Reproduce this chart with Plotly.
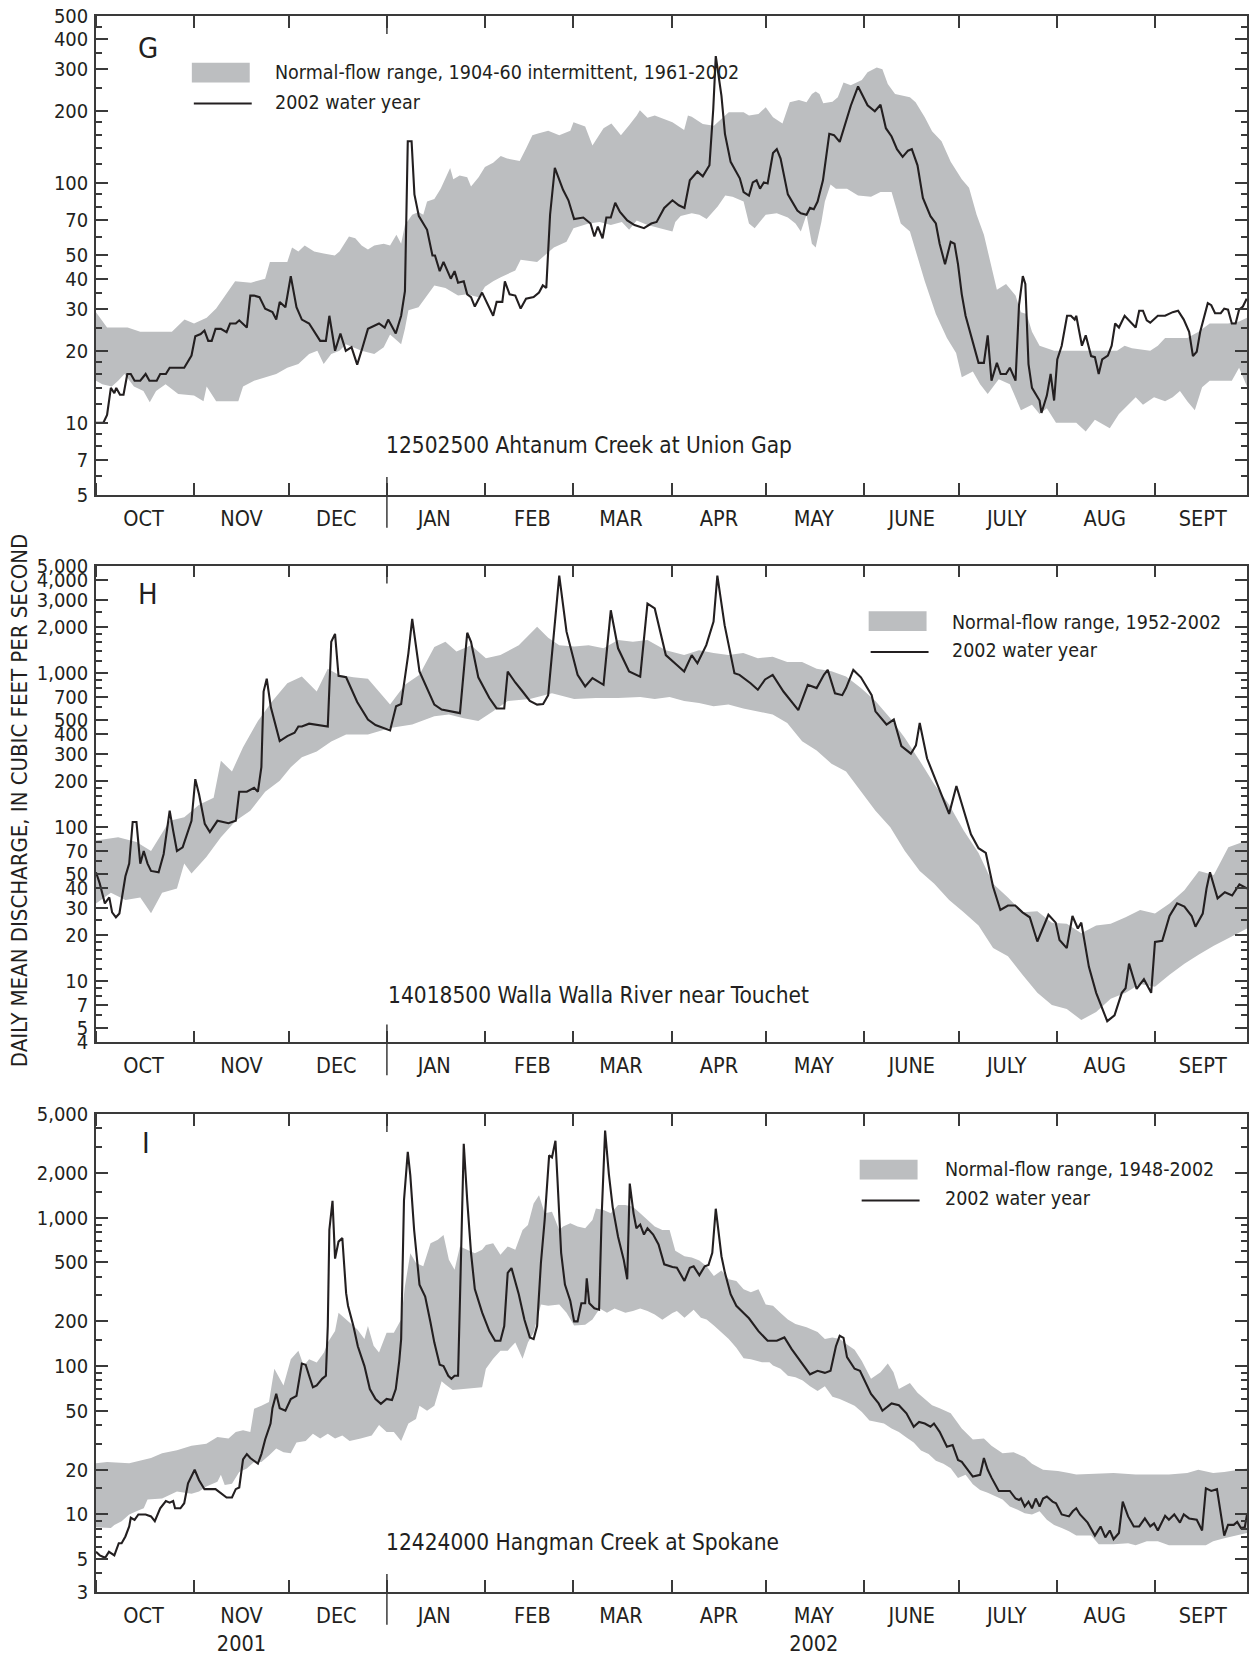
import math
import pandas as pd
import plotly.graph_objects as go

# ---------------- DATA (day of water year counted from 2001-10-01, discharge in ft3/s) ----------------
BASE = "2001-10-01"

G_UPPER = [(0,29),(3.5,25),(10,25),(14,24),(24,24),(28,27),(31,26),(35,27.5),(38,30),(42,36),(44,39),(49,38.5),(53.5,40),(55,47),(60.5,47),(62,54),(64,52),(66,55),(69,52),(72,51),(75.5,50),(77,52),(80,60),(82,59),(84,55),(86,53),(88,55),(91,56),(93,55),(95,61),(96.5,56),(97.7,67),(100,74),(102,76),(103.5,74),(104.7,84),(107,86),(109,95),(112,116),(113,104),(115,108),(117.4,106),(118.6,97),(121,106),(123,117),(125.6,122),(128,130),(130,127),(134,124),(136,140),(138,159),(139.5,161),(143,166),(146.5,159),(150,166),(151,180),(154.7,173),(157,144),(160.5,170),(163,178),(166,159),(168.6,175),(171,192),(172,202),(174.4,188),(176.7,192),(179,187),(182.3,180),(186,167),(187.2,192),(188.4,190),(191.9,177),(195.4,174),(200.1,198),(204.8,198),(206.5,192),(209.5,195),(211.8,208),(214.1,189),(217.1,178),(219.4,218),(222.3,223),(224.7,218),(226.4,236),(227.6,242),(228.8,236),(230,216),(232.9,219),(234.6,229),(236.4,264),(238.7,257),(242.2,270),(244,291),(246.9,305),(248.7,300),(250.4,260),(252.7,236),(257.4,229),(259.2,218),(262.1,189),(264.4,165),(267.4,150),(270.3,123),(273.8,104),(276.1,96),(278.5,74),(280.8,61),(283.2,44),(284.9,36),(287.8,38),(290.8,34),(292.5,29),(294.3,28.5),(296,24),(298.4,21),(303,20),(308.9,20),(315.9,20),(322.9,20),(325.3,21),(327.6,20.5),(333.4,20),(335.8,21),(338.1,22.6),(345.1,22.6),(348.7,24),(352.2,26),(358,26),(361.5,26.5),(364,27.5)]

G_LOWER = [(0,15),(2,14.5),(5,14.2),(7,15),(9,16),(12,14.2),(15,13.6),(17,12.2),(19,13.6),(22,14.5),(26,13.2),(31,13),(34,12.3),(35,14.2),(38,12.3),(45,12.3),(46.5,14.2),(50,15),(57,16),(60.5,17),(64,17.6),(67.4,19.4),(70,20),(72,17.6),(74.4,19.4),(77,20),(79,21.3),(84,20),(88,19.4),(91,20.7),(93,23.4),(96.5,21.3),(97.7,24.7),(98.8,29.5),(102,30.4),(104.7,34),(107,37.5),(110.5,36.6),(114.5,34),(117.4,34.4),(121,33.5),(123,37),(125.6,39),(128,40.6),(132.6,43.3),(134.3,48),(139.5,47),(141.9,50),(144.8,54),(148.8,57),(151,65),(155.8,68),(159.3,69),(162.8,67),(166.3,69),(168.6,64),(171,70),(174.4,67),(178,65),(182.3,63),(183.2,69),(184.9,73),(188.4,75),(190.8,74),(193.1,71),(196.6,80),(199,89),(201.3,88),(204.8,84),(206.5,68),(208.3,65),(211.8,74),(215.3,75),(218.8,72),(221.2,68),(222.9,63),(224.7,74),(226.4,56),(227.6,54),(229.4,69),(230.5,84),(232.3,99),(234,95),(237.5,95),(241,89),(245.1,88),(248.1,92),(251.6,92),(254.5,68),(257.4,63),(262.1,39),(265.6,28.5),(269.1,22.6),(272,19.6),(273.8,15.5),(277.3,16.4),(279.6,14.5),(282,13.2),(285.5,15.2),(289,14.5),(292.5,11.3),(296,11.9),(298.4,10.9),(300.7,11.5),(303.6,10),(310,10),(313,9.2),(315.9,10.3),(320.6,9.5),(323.5,10.9),(328.8,12.8),(331.1,11.9),(334.6,12.8),(338.1,12.3),(340.5,12.8),(342.8,13.6),(345.1,12.3),(347.5,11.3),(349.8,14.1),(352.2,15),(359.2,15),(361.5,17),(364,14.2)]

G_FLOW = [(0,10),(2.3,10),(3.5,10.8),(4.7,14),(5.8,13.3),(6.4,14),(7.6,13.1),(8.7,13.1),(9.9,16),(11,16),(12.2,15),(14,15),(15.7,16),(16.9,15),(19.2,15),(20.3,16),(22.1,16),(23.3,17),(27.9,17),(30.2,19.1),(31.4,23),(33.1,23.5),(34.3,24.3),(35.5,22),(36.6,22),(37.8,24.7),(39.5,24.7),(41.3,23.9),(42.4,26),(44.2,26),(45.3,26.8),(47.7,25),(48.8,34),(50,34),(51.7,33.5),(53.5,30),(55.8,29),(57,27),(58.1,32),(59.9,30.4),(61.6,41),(63.4,30.4),(65.1,27),(67.4,26),(70.9,22),(72.7,22),(73.8,28),(75.6,20),(77.3,23.6),(79,20),(80.8,20.7),(82.6,17.5),(84.3,20.7),(86,24.7),(89.5,26),(91.3,25),(92.4,27),(94.8,23.6),(96.5,28),(97.7,35.5),(98.6,150),(99.8,150),(100.7,90),(102.1,73),(104.7,64),(106.4,50),(107.2,50),(108.7,43),(109.9,47),(112.2,40),(113.4,43),(114.5,38.5),(116.3,39),(117.4,34.4),(118.6,33.5),(119.8,30.6),(122.1,35),(123.8,31.6),(125.6,28),(126.7,32),(128.5,32),(129.3,39),(130.8,34.4),(132.6,34),(134.3,30),(136,33),(138.4,33.5),(140.1,35),(141.3,37.5),(142.4,36.6),(143.6,74),(145.1,116),(147.7,94),(149.4,85),(151.2,71),(154.1,72),(156.4,68),(157.6,60),(158.7,66),(160.2,59),(161.4,72),(162.8,72),(164.2,83),(165.7,76),(168,70),(170.3,67),(173.3,65),(175.6,68),(177.3,69),(179.7,79),(182.3,85),(184.3,81),(186.1,79),(187.8,103),(190.2,112),(191.9,107),(194,119),(195.2,204),(196,340),(197.8,232),(198.9,161),(200.7,123),(203.6,105),(204.8,92),(206.5,89),(207.7,101),(208.9,103),(210,95),(211.2,101),(212.4,100),(214.1,134),(215.3,139),(216.5,127),(218.8,90),(221.8,77),(222.9,75),(224.7,74),(225.8,79),(227,78),(228.2,84),(229.9,103),(231.9,161),(233.4,159),(235.2,149),(236.9,175),(238.7,211),(241,254),(242.2,235),(244,212),(246.3,200),(248.1,213),(249.8,170),(251.6,157),(253.3,139),(255.1,129),(256.8,137),(258,139),(259.8,119),(261.5,87),(263.9,73),(265.6,68),(266.8,56),(268.5,46),(270.3,57),(271.5,56),(272.6,46),(273.8,34.4),(275,28),(276.7,23),(279.1,17.8),(280.8,17.8),(282,23.2),(283.2,15),(284.9,17.8),(286.1,16),(287.8,16),(289,17),(290.8,15),(291.9,31),(293.1,41),(293.9,38),(294.9,17.6),(296,14),(298.4,12.4),(299,11),(300.7,13),(301.9,16),(303,12.4),(304,18.4),(305.4,21),(307.1,28),(308.3,28),(309.5,27),(310,28),(311.8,21),(313,23.2),(314.7,19),(315.9,18.8),(317.1,16),(318.2,18.4),(320,19.1),(321.2,21),(322.3,26),(323.5,25),(325.3,28),(327,26.5),(328.8,25),(329.9,29.4),(331.1,29.4),(332.3,26.8),(333.4,26.2),(335.8,28),(338.1,28),(340.5,29),(342.2,29.4),(344,27),(345.7,24),(346.9,19),(348.1,19.8),(349.2,24),(351.6,31.6),(352.7,31),(353.9,28.7),(355.7,28.7),(356.8,30),(358,29.7),(359.2,26),(360.4,26),(361.5,29.7),(362.7,30.6),(363.9,33)]

H_UPPER = [(0,82),(7,86),(12.8,80),(17.4,70),(23.3,110),(27.9,116),(32.6,140),(37.2,155),(39.5,270),(43,230),(46.5,330),(51.2,490),(55.8,660),(60.5,860),(65.1,950),(69.8,760),(73.3,1070),(76.7,975),(81.4,940),(86,920),(93,625),(97.7,840),(102.3,975),(107,1480),(110.5,1600),(114,1380),(118.6,1520),(123.3,1250),(127.9,1310),(133.7,1520),(139.5,2000),(143,1700),(146.5,1520),(151.2,1490),(155.8,1520),(160.5,1450),(165.1,1640),(169.8,1600),(174.4,1640),(180.2,1410),(186,1310),(190.7,1410),(195.3,1350),(200,1310),(204.7,1350),(209.3,1250),(214,1280),(218.6,1180),(223.3,1180),(227.9,1070),(232.6,1030),(237.2,950),(241.9,800),(246.5,660),(251.2,510),(255.8,380),(260.5,270),(265.1,190),(269.8,140),(274.4,95),(279.1,68),(283.7,43),(288.4,35),(293,28),(297.7,28.5),(302.3,24),(307,23.6),(311.6,20.5),(316.3,23),(320.9,23.6),(325.6,26),(330.2,29),(334.9,27.5),(339.5,32),(344.2,39),(348.8,52),(353.5,49),(358.1,74),(364,82)]

H_LOWER = [(0,32),(4.7,37.5),(9.3,33.7),(14,35),(17.4,27.6),(20.9,37.5),(25.6,40),(27.9,58),(30.2,50),(34.9,64),(39.5,86),(44.2,110),(48.8,128),(53.5,170),(58.1,200),(61.6,245),(65.1,285),(69.8,310),(74.4,360),(79.1,400),(86,400),(93,440),(100,464),(107,525),(111.6,540),(116.3,510),(120.9,490),(125.6,565),(130.2,660),(137.2,680),(144.2,740),(151.2,680),(158.1,690),(165.1,690),(172.1,700),(176.7,680),(181.4,700),(186,660),(190.7,640),(195.3,610),(200,625),(204.7,590),(209.3,565),(214,540),(218.6,475),(223.3,362),(227.9,315),(232.6,258),(237.2,230),(241.9,170),(246.5,128),(251.2,100),(255.8,70),(260.5,52),(265.1,43),(269.8,33.7),(274.4,28),(279.1,23),(283.7,16.4),(288.4,14.5),(293,11),(297.7,8.4),(302.3,7),(307,6.6),(311.6,5.6),(316.3,6.3),(320.9,7.7),(325.6,8.4),(330.2,9.6),(334.9,9.2),(339.5,11),(344.2,13),(348.8,14.9),(353.5,17),(358.1,19),(364,22)]

H_FLOW = [(0,51),(1.2,43),(2.8,32),(4.2,35),(5.1,28),(6.3,26),(7.4,27.5),(9.3,48),(10.5,58),(11.6,108),(12.8,108),(14,58),(15.1,70),(16.3,58),(17.4,52),(19.8,51),(21.4,67),(23.3,128),(24.4,95),(25.6,70),(27.4,74),(29.1,95),(30.2,110),(31.4,205),(32.6,163),(34.4,105),(36,93),(38.4,110),(41.9,106),(44.2,110),(45.3,170),(47.7,170),(50,180),(51.2,170),(52.3,245),(53,760),(54,920),(55.3,600),(58.1,362),(60.5,390),(62.8,410),(64,450),(65.1,450),(67.4,470),(70.9,460),(73.3,450),(74.4,1600),(75.6,1800),(76.7,960),(79.1,940),(82.6,650),(86,500),(88.4,460),(93,425),(94.9,610),(96.5,630),(98.8,1350),(100,2250),(102.3,1025),(107,625),(109.3,580),(111.6,570),(115.1,550),(117.4,1830),(118.6,1600),(120.9,940),(124.4,690),(126.7,590),(129.1,590),(130.2,1025),(132.6,870),(134.9,760),(137.2,660),(139.5,625),(141.4,630),(143,720),(146.5,4300),(148.8,1860),(152.3,975),(154.7,820),(157,930),(160.5,840),(162.8,2560),(165.1,1450),(168.6,1025),(172.1,950),(174.4,2830),(176.7,2630),(180.2,1310),(183.7,1130),(186,1025),(188.4,1310),(190.2,1160),(193,1520),(195.3,2160),(196.5,4300),(198.8,2050),(201.9,1000),(203.5,975),(207,860),(209.3,780),(211.6,910),(214,975),(217.4,760),(219.8,660),(222.1,575),(225.1,840),(227.9,800),(230.2,975),(231.4,1050),(233.7,740),(236,720),(237.2,800),(239.5,1050),(241.9,940),(245.3,720),(246.5,565),(250,464),(252.3,500),(254.7,336),(257.7,300),(259.3,340),(260.5,475),(262.8,280),(266.3,185),(269.8,122),(272.1,185),(274.4,128),(276.7,90),(279.1,73),(281.4,68),(283.7,41),(286,29),(288.4,31),(290.7,31),(293,28),(295.3,26),(297.7,18.1),(301.2,27),(303.5,24),(304.7,18.5),(307,16.4),(308.8,26.5),(310.5,22),(311.6,24),(314,12.4),(316.3,8.4),(319.8,5.5),(322.1,6),(324.4,8.4),(325.6,9),(326.7,13),(329.1,8.9),(331.4,10.3),(333.7,8.4),(334.9,18),(337.2,18.3),(339.5,26.5),(341.9,32),(344.2,30.5),(346.5,26.5),(347.7,22.6),(350,27.5),(351.2,40),(352.3,51),(354.7,34.5),(357,37.8),(359.3,36),(361.6,42.5),(364,40)]

I_UPPER = [(0,22.1),(3.5,22.6),(10.5,22.1),(15.1,23.3),(17.4,24),(20.9,25.8),(25.6,27.1),(30.2,29),(34.9,30),(38.4,33.3),(41.9,32.5),(44.2,36),(46.5,36.9),(48.8,36),(50,51.6),(52.3,54),(54.7,57.2),(56.4,96),(58.1,82),(59.3,74),(61.6,111),(64,127),(65.7,100.6),(67.4,111),(69.8,105.7),(72.1,123.6),(73.3,144),(75.6,172.6),(76.7,229),(79.1,206),(80.2,196),(82.6,177),(84.9,152),(86,186),(87.8,137),(89.5,123.6),(91.9,168),(94.2,168),(96.5,206),(97.7,345),(99.4,577),(101.2,495),(103.5,470),(105.8,674),(108.1,710),(109.9,766),(111.6,521),(113.4,446),(115.1,640),(117.4,608),(119.8,577),(122.1,608),(123.3,656),(125.6,674),(127.9,562),(130.2,640),(132.6,608),(134.9,828),(136.6,894),(138.4,1247),(140.1,1419),(141.9,1070),(144.2,1098),(146.5,828),(147.7,871),(150,917),(152.3,871),(154.7,849),(157,966),(158.1,1156),(160.5,1127),(162.8,1070),(165.1,1216),(167.4,1216),(169.8,1186),(172.1,1070),(174.4,966),(176.7,871),(179.1,828),(181.4,828),(183.2,600),(186.1,550),(188.4,540),(190.8,515),(193.1,470),(195.4,405),(197.8,440),(200.1,385),(202.5,375),(204.8,330),(207.1,315),(209.5,330),(211.8,260),(214.1,255),(216.5,228),(218.8,206),(221.2,192),(224.7,183),(228.2,170),(230.5,152),(232.9,156),(235.2,152),(237.5,140),(239.9,129),(242.2,108),(245.1,82),(248.1,91),(250.4,104),(252.2,91),(253.9,70),(257.4,77),(259.8,66),(262.1,60),(264.4,54.5),(266.8,52),(270.3,48),(273.8,38),(277.3,32),(280.8,32.5),(283.2,29),(286.7,25.8),(290.2,26.3),(293.7,24.3),(296,22),(299.5,20),(304.2,19.6),(307.7,19),(310,18.6),(321.8,19),(328.8,18.6),(339.3,18.6),(345.1,19),(348.6,20),(353.3,19),(356.8,19.3),(361.5,20),(364,20.4)]

I_LOWER = [(0,8.2),(4.7,8.1),(5.8,8.5),(8.1,9),(10.5,10),(12.8,10.5),(15.1,11),(16.3,12.6),(20.9,12.8),(23.3,13.5),(25.6,14.3),(30.2,13.8),(32.6,14.3),(34.9,15.4),(38.4,16.6),(39.5,18.5),(40.7,15.8),(43,16.1),(45.3,19.3),(47.7,20.4),(50,22.6),(52.3,22.6),(54.7,25),(57,27.8),(59.3,26.3),(61.6,25.8),(63.4,30.5),(66.3,31.3),(68.6,35),(70.9,32.5),(73.3,35),(75.6,32.5),(77.9,34),(80.2,31.3),(83.7,32.5),(87.2,34),(89.5,40),(91.9,36),(94.2,36),(96.5,31.3),(98.8,41),(101.2,44),(102.3,54),(104.7,50),(107,54),(109.3,79),(110.5,75),(112.8,69),(117.4,70.5),(122.1,72),(123.3,96),(125.6,112),(127.9,127),(130.2,127),(132.6,144),(134.9,112),(136.6,144),(138.4,168),(140.7,260),(143,255),(146.5,260),(148.8,229),(151.2,188),(154.7,190),(157,206),(159.3,244),(161.6,229),(164,244),(167.4,229),(169.8,235),(172.1,244),(174.4,235),(176.7,223),(179.1,205),(182.3,228),(183.7,235),(186.1,212),(189,240),(191.3,212),(193.1,206),(195.4,188),(197.8,170),(200.1,152),(202.5,133),(204.8,113),(207.1,111),(210.6,106),(213,106),(214.1,101),(216.5,96),(218.8,86),(221.2,84),(223.5,80),(225.8,73),(228.2,68),(230.5,73),(232.9,62),(235.2,60),(237.5,57),(239.9,54),(242.2,49),(244.6,43),(246.9,42),(249.2,41),(251.6,38),(253.9,36),(256.3,33),(258.6,30.5),(260.9,27),(263.3,25.5),(265.6,23),(268,22),(270.3,20.5),(272.6,17.6),(275,18.5),(277.3,16),(279.6,14.6),(282,14),(284.3,13.3),(286.7,12.6),(289,11.3),(291.3,10.8),(293.7,10.2),(296,10),(298.4,10.5),(300.7,9.2),(303,8.5),(305.4,8.1),(307.7,7.7),(310,7.2),(314.7,7.2),(317.1,6.3),(321.8,6.3),(326.4,6.4),(328.8,6.2),(332.3,6.6),(335.8,6.6),(339.3,6.2),(351,6.2),(353.3,6.6),(356.8,6.9),(361.5,7.3),(364,7.5)]

I_FLOW = [(0,5.6),(1.2,5.3),(2.9,5.1),(4.1,5.6),(5.8,5.3),(7.2,6.4),(8.1,6.4),(9.3,7.1),(10.5,8.3),(11,9.5),(12.2,9.2),(13.4,10),(15.7,10),(17.4,9.7),(18.6,9),(20.3,11),(22.1,12.3),(23.3,12),(24.4,12.3),(25,11),(26.7,11),(27.9,11.9),(29.1,16.2),(30.2,18),(31.2,20),(32.6,17),(34.3,14.8),(37.8,14.8),(39.5,13.8),(41.3,13),(43,13),(44.2,14.8),(45.3,15.2),(46.5,23.5),(47.7,25.5),(48.8,24),(51.2,22),(52.3,25.5),(53.5,32),(55.2,41),(55.8,52),(57,65),(58.1,52),(59.9,50),(61.6,60),(63.4,63),(65.1,104),(66.3,102),(67.4,86),(68.6,72),(69.8,74),(71.5,82),(72.7,86),(73.3,186),(73.8,830),(74.8,1300),(75.6,530),(76.7,690),(77.9,730),(79.1,310),(79.7,255),(81.4,186),(82.8,136),(84.9,100),(86.6,70),(88.4,60),(90.1,55.6),(91.9,60),(93.6,59),(94.8,70),(95.9,108),(96.5,152),(97.4,1310),(98.6,2780),(99.4,1930),(100.6,830),(102.3,354),(104.1,294),(105.8,196),(107,144),(108.7,102),(109.9,100),(111.4,86),(112.4,82),(113.4,86),(114.5,86),(115.1,280),(116.3,3150),(117.4,1310),(118.6,580),(119.8,330),(122.1,230),(124.4,172),(126.2,148),(127.9,148),(129.1,186),(130.2,425),(131.4,458),(133.7,305),(135.5,205),(137.2,156),(138.4,152),(139.5,186),(140.7,495),(141.9,970),(143.3,2630),(144.2,2550),(145.3,3300),(145.9,1880),(147.1,580),(148.3,354),(150,275),(151.2,200),(152.3,200),(153.5,265),(154.7,265),(155.2,390),(156,265),(157.6,245),(159.1,240),(159.9,1010),(161,3870),(162.2,1960),(163.4,1180),(165.1,745),(166.9,520),(168,385),(168.8,1700),(170,1070),(170.9,850),(172.1,900),(173.3,770),(174.4,850),(176.2,770),(177.9,660),(179.7,485),(182.3,465),(183.7,460),(186.1,375),(187.8,460),(189,470),(190.8,410),(192.5,470),(193.7,480),(194.9,580),(196,1150),(197.8,550),(198.9,425),(200.7,305),(202.5,255),(204.8,228),(206.5,210),(209.5,172),(212.4,148),(215.3,148),(217.7,156),(220,130),(222.3,112),(225.8,88),(228.2,93),(230.5,90),(232.3,93),(234,136),(235.2,160),(236.4,155),(237.5,115),(239.9,96),(241.6,93),(243.4,77),(245.1,65),(247.5,56),(248.7,50),(251.6,56),(253.9,54.5),(256.3,48),(258.6,39),(260.3,42),(262.1,41),(263.9,39),(265,41),(266.8,36),(269.1,28.6),(270.9,29.4),(272.6,23.3),(273.8,22.6),(276.1,19.5),(277.3,18),(279.6,18.5),(280.8,24),(282,20),(283.2,17.7),(285.5,14.4),(289,14.4),(290.8,12.8),(291.9,12.5),(292.5,12.8),(293.7,11.3),(294.9,12.2),(296,11),(297.2,12.8),(298.4,11.3),(299.5,12.8),(300.7,13.2),(302.5,12.2),(303.6,11.9),(305.4,10),(307.7,9.7),(308.9,10.5),(310,11),(311.2,10),(313.6,8.8),(315.9,7.2),(317.7,8.3),(319.2,7),(320.6,7.8),(321.8,6.8),(323.5,7.5),(324.7,12.2),(326.4,9.7),(328.2,8.3),(329.9,8.3),(331.7,9.4),(333.4,8.3),(334.6,8.7),(335.8,7.8),(338.1,9.8),(339.3,9.2),(341,10),(342.8,8.8),(344,10),(345.7,9.4),(348.1,9.2),(349.8,7.8),(351,15),(352.7,14.4),(354.5,14.8),(355.7,10.5),(356.8,7.2),(358,8.5),(359.8,8.5),(360.9,8.9),(362.1,8.1),(363.3,8.2),(364,10)]

MONTHS = ["OCT", "NOV", "DEC", "JAN", "FEB", "MAR", "APR", "MAY", "JUNE", "JULY", "AUG", "SEPT"]

G_MAJOR = [5, 7, 10, 20, 30, 40, 50, 70, 100, 200, 300, 400, 500]
G_MINOR = [6, 8, 9, 12, 14, 16, 18, 25, 35, 45, 60, 80, 90, 120, 140, 160, 180, 250, 350, 450]
H_MAJOR = [4, 5, 7, 10, 20, 30, 40, 50, 70, 100, 200, 300, 400, 500, 700, 1000, 2000, 3000, 4000, 5000]
H_MINOR = [6, 8, 9, 12, 14, 16, 18, 25, 60, 80, 90, 120, 140, 160, 180, 250, 600, 800, 900, 1200, 1400, 1600, 1800, 2500]
I_MAJOR = [3, 5, 10, 20, 50, 100, 200, 500, 1000, 2000, 5000]
I_MINOR = [4, 6, 7, 8, 9, 15, 30, 40, 60, 70, 80, 90, 150, 300, 400, 600, 700, 800, 900, 1500, 3000, 4000]

PANELS = [
    dict(letter="G", station="12502500 Ahtanum Creek at Union Gap",
         legend="Normal-flow range, 1904-60 intermittent, 1961-2002",
         upper=G_UPPER, lower=G_LOWER, flow=G_FLOW, ylim=(5, 500), major=G_MAJOR, minor=G_MINOR),
    dict(letter="H", station="14018500 Walla Walla River near Touchet",
         legend="Normal-flow range, 1952-2002",
         upper=H_UPPER, lower=H_LOWER, flow=H_FLOW, ylim=(4, 5000), major=H_MAJOR, minor=H_MINOR),
    dict(letter="I", station="12424000 Hangman Creek at Spokane",
         legend="Normal-flow range, 1948-2002",
         upper=I_UPPER, lower=I_LOWER, flow=I_FLOW, ylim=(3, 5000), major=I_MAJOR, minor=I_MINOR),
]

# ---------------- STYLE / LAYOUT ----------------
W, H = 1252, 1659
ML, MR, MT, MB = 96, 3, 16, 57
PW, PH = W - ML - MR, H - MT - MB
FONT = "Liberation Sans Narrow, Arial Narrow, DejaVu Sans Condensed, sans-serif"
INK = "#231f20"
AXC = "#3a3a3a"
BAND = "#bcbec0"

# panel pixel boxes (top, bottom) in figure pixels
BOXES = [(16, 498), (569, 1049), (1121, 1602)]


def px(x):
    return (x - ML) / PW


def py(y):
    return (H - MB - y) / PH


def dates(days):
    base = pd.Timestamp(BASE)
    return [base + pd.Timedelta(days=float(d)) for d in days]


month_starts = list(pd.date_range(BASE, periods=12, freq="MS"))
month_mids = [m + pd.Timedelta(days=15) for m in month_starts]
jan1 = pd.Timestamp("2002-01-01")

fig = go.Figure()
shapes = []
annotations = []

for i, p in enumerate(PANELS):
    k = "" if i == 0 else str(i + 1)
    xa, ya = "x" + k, "y" + k
    ud, uv = zip(*p["upper"])
    ld, lv = zip(*p["lower"])
    fd, fv = zip(*p["flow"])
    band_x = dates(ud) + dates(ld)[::-1]
    band_y = list(uv) + list(lv)[::-1]
    fig.add_trace(go.Scatter(x=band_x, y=band_y, fill="toself", fillcolor=BAND,
                             line=dict(width=0), mode="lines", hoverinfo="skip",
                             name=p["legend"], showlegend=False, xaxis=xa, yaxis=ya))
    fig.add_trace(go.Scatter(x=dates(fd), y=list(fv), mode="lines",
                             line=dict(color=INK, width=2.1),
                             name="2002 water year", showlegend=False, xaxis=xa, yaxis=ya))

    top, bot = BOXES[i]
    dom = [py(bot), py(top)]
    ticktext = list(MONTHS)
    if i == 2:
        ticktext[1] = "NOV<br>2001"
        ticktext[7] = "MAY<br>2002"
    fig.layout["xaxis" + k] = dict(
        type="date", range=[BASE, "2002-09-30"], anchor=ya, domain=[0, 1],
        tickmode="array", tickvals=month_mids, ticktext=ticktext, ticks="",
        showline=True, linecolor=AXC, linewidth=1.5, mirror="allticks",
        showgrid=False, zeroline=False, tickfont=dict(size=21.5, color=INK, family=FONT),
        ticklabelstandoff=3,
        minor=dict(tickmode="array", tickvals=month_starts, ticks="inside", ticklen=12,
                   tickwidth=1.5, tickcolor=AXC, showgrid=False),
    )
    lo, hi = p["ylim"]
    fig.layout["yaxis" + k] = dict(
        type="log", range=[math.log10(lo), math.log10(hi)], domain=dom, anchor=xa,
        tickmode="array", tickvals=p["major"], ticktext=[f"{v:,}" for v in p["major"]],
        ticks="inside", ticklen=12, tickwidth=1.5, tickcolor=AXC,
        showline=True, linecolor=AXC, linewidth=1.5, mirror="allticks",
        showgrid=False, zeroline=False, tickfont=dict(size=20, color=INK, family=FONT),
        ticklabelstandoff=2,
        minor=dict(tickmode="array", tickvals=p["minor"], ticks="inside", ticklen=6,
                   tickwidth=1.5, tickcolor=AXC, showgrid=False),
    )
    # long January tick (crosses the bottom axis) and longer top tick
    shapes.append(dict(type="line", xref=xa, yref="paper", x0=jan1, x1=jan1,
                       y0=py(bot + 33), y1=py(bot - 18), line=dict(color=AXC, width=1.5)))
    shapes.append(dict(type="line", xref=xa, yref="paper", x0=jan1, x1=jan1,
                       y0=py(top + 18), y1=py(top), line=dict(color=AXC, width=1.5)))

# panel letters
for (letter, x, y) in [("G", 136, 48), ("H", 136, 598), ("I", 140, 1150)]:
    annotations.append(dict(text=letter, x=px(x), y=py(y), xref="paper", yref="paper",
                            xanchor="left", yanchor="middle", showarrow=False,
                            font=dict(size=29, color=INK, family=FONT)))

# station names
for (name, x, y) in [(PANELS[0]["station"], 384, 448), (PANELS[1]["station"], 387, 1001),
                     (PANELS[2]["station"], 385, 1552)]:
    annotations.append(dict(text=name, x=px(x), y=py(y), xref="paper", yref="paper",
                            xanchor="left", yanchor="middle", showarrow=False,
                            font=dict(size=22.5, color=INK, family=FONT)))

# hand-made legends: (rect x0, x1, rect y0, y1, line y, text x, text1 y, text2 y)
LEG = [(192, 250, 63, 83, 104, 273, 73, 103),
       (870, 928, 615, 635, 656, 951, 626, 655),
       (861, 919, 1167, 1187, 1208, 944, 1177, 1206)]
for p, (x0, x1, y0, y1, ly, tx, t1, t2) in zip(PANELS, LEG):
    shapes.append(dict(type="rect", xref="paper", yref="paper", x0=px(x0), x1=px(x1),
                       y0=py(y1), y1=py(y0), fillcolor=BAND, line=dict(width=0)))
    shapes.append(dict(type="line", xref="paper", yref="paper", x0=px(x0 + 2), x1=px(x1 + 2),
                       y0=py(ly), y1=py(ly), line=dict(color=INK, width=2)))
    annotations.append(dict(text=p["legend"], x=px(tx), y=py(t1), xref="paper", yref="paper",
                            xanchor="left", yanchor="middle", showarrow=False,
                            font=dict(size=19.5, color=INK, family=FONT)))
    annotations.append(dict(text="2002 water year", x=px(tx), y=py(t2), xref="paper", yref="paper",
                            xanchor="left", yanchor="middle", showarrow=False,
                            font=dict(size=19.5, color=INK, family=FONT)))

# shared y-axis title
annotations.append(dict(text="DAILY MEAN DISCHARGE, IN CUBIC FEET PER SECOND",
                        x=px(19), y=py(806), xref="paper", yref="paper",
                        xanchor="center", yanchor="middle", textangle=-90, showarrow=False,
                        font=dict(size=22, color=INK, family=FONT)))

fig.update_layout(
    width=W, height=H, margin=dict(l=ML, r=MR, t=MT, b=MB, pad=0),
    paper_bgcolor="white", plot_bgcolor="white", showlegend=False,
    font=dict(family=FONT, color=INK), shapes=shapes, annotations=annotations,
)

fig.write_html("out.html")
